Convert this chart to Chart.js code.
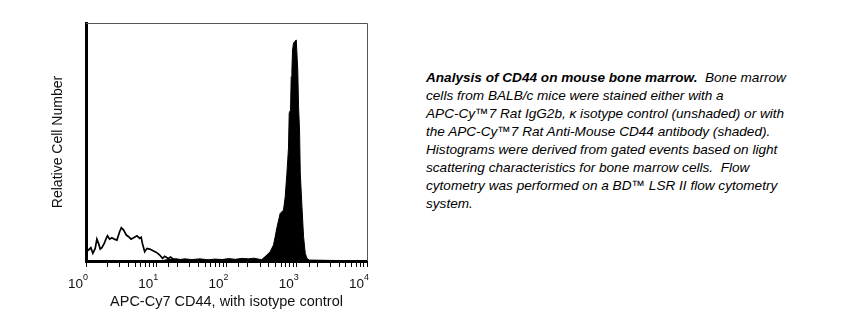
<!DOCTYPE html>
<html>
<head>
<meta charset="utf-8">
<script src="https://cdn.jsdelivr.net/npm/chart.js@4.4.1/dist/chart.umd.min.js"></script>
<style>
  html, body { margin: 0; padding: 0; background: #fff; }
  body { width: 844px; height: 321px; position: relative; overflow: hidden; }
  #wrap { position: absolute; left: 0; top: 0; width: 400px; height: 321px; }
  #caption {
    position: absolute; left: 426px; top: 69px; width: 415px;
    font-family: "Liberation Sans", Arial, sans-serif; font-style: italic;
    font-size: 13.6px; line-height: 18px; color: #000; white-space: nowrap;
  }
</style>
</head>
<body>
<div id="wrap"><canvas id="hist"></canvas></div>
<div id="caption">
<b>Analysis of CD44 on mouse bone marrow.</b>&nbsp; Bone marrow<br>
cells from BALB/c mice were stained either with a<br>
APC-Cy™7 Rat IgG2b, κ isotype control (unshaded) or with<br>
the APC-Cy™7 Rat Anti-Mouse CD44 antibody (shaded).<br>
Histograms were derived from gated events based on light<br>
scattering characteristics for bone marrow cells.&nbsp; Flow<br>
cytometry was performed on a BD™ LSR II flow cytometry<br>
system.
</div>
<script>
// isotype control (unshaded)
const ctrlX = [1.0, 1.005, 1.086, 1.172, 1.252, 1.352, 1.428, 1.509, 1.594, 1.683, 1.818, 1.941, 2.028, 2.166, 2.339, 2.526, 2.756, 3.01, 3.18, 3.434, 3.749, 4.047, 4.369, 4.772, 5.325, 5.81, 6.1, 6.35, 6.85, 7.39, 8.07, 9.01, 10.07, 11.2, 12.3, 13.2, 14.8, 16.0, 17.4, 19.4, 21.7, 30, 60, 10000];
const ctrlY = [0, 5.3, 4.6, 5.6, 3.2, 5.3, 9.2, 7.4, 5.0, 5.6, 7.4, 9.5, 10.6, 9.2, 9.8, 9.2, 8.8, 12.3, 14.0, 13.0, 10.9, 10.2, 9.2, 9.8, 10.6, 9.5, 10.0, 7.4, 3.9, 5.3, 5.0, 4.3, 3.6, 2.5, 1.1, 2.0, 1.1, 1.7, 0.8, 0.8, 0.5, 0.3, 0.2, 0];

// CD44 stained (shaded)
const cd44X = [1, 12, 13.2, 16.6, 20.4, 25.5, 32.2, 41.8, 54.6, 68.4, 86.2, 107, 133, 166, 207, 246, 281, 318, 375, 418, 466, 493, 521, 581, 648, 685, 724, 763, 781, 815, 834, 853, 871, 900, 952, 984, 1033, 1061, 1096, 1122, 1186, 1250, 1322, 1398, 1510, 10000];
const cd44Y = [0, 0, 0.4, 0.8, 0.5, 0.9, 0.6, 0.9, 0.5, 0.8, 0.6, 1.0, 0.7, 1.1, 0.9, 1.2, 0.8, 0.6, 2.5, 3.9, 6.7, 10.2, 13.9, 20.0, 21.4, 27.0, 36.8, 47.5, 62.2, 63.4, 77.4, 80.3, 88.7, 91.6, 92.4, 92.9, 80.3, 64.8, 55.0, 37.0, 22.8, 10.2, 3.2, 1.1, 0.4, 0];

const majorTicks = [1, 10, 100, 1000, 10000];
const xTitle = 'APC-Cy7 CD44, with isotype control';
const yTitle = 'Relative Cell Number';

const pts = (xs, ys) => xs.map((x, i) => ({ x: x, y: ys[i] }));

// grey frame on top/right + 10^n labels
const extras = {
  id: 'extras',
  afterDraw(chart) {
    const c = chart.ctx, a = chart.chartArea, sx = chart.scales.x;
    c.save();
    c.strokeStyle = '#555';
    c.lineWidth = 1;
    c.beginPath();
    c.moveTo(a.left, a.top + 0.5);
    c.lineTo(a.right + 0.5, a.top + 0.5);
    c.lineTo(a.right + 0.5, a.bottom);
    c.stroke();

    c.fillStyle = '#111';
    c.textAlign = 'right';
    c.textBaseline = 'alphabetic';
    majorTicks.forEach(v => {
      const px = sx.getPixelForValue(v) + 2;
      const exp = String(Math.round(Math.log10(v)));
      c.font = '9px "Liberation Sans", Arial, sans-serif';
      const ew = c.measureText(exp).width;
      c.fillText(exp, px, 280);
      c.font = '13.5px "Liberation Sans", Arial, sans-serif';
      c.fillText('10', px - ew, 288);
    });
    c.restore();
  }
};

new Chart(document.getElementById('hist'), {
  type: 'line',
  data: {
    datasets: [
      {
        data: pts(cd44X, cd44Y),
        borderColor: '#000',
        backgroundColor: '#000',
        borderWidth: 1,
        fill: 'origin',
        pointRadius: 0,
        tension: 0
      },
      {
        data: pts(ctrlX, ctrlY),
        borderColor: '#000',
        borderWidth: 1.7,
        fill: false,
        pointRadius: 0,
        tension: 0
      }
    ]
  },
  options: {
    responsive: true,
    maintainAspectRatio: false,
    animation: false,
    layout: { padding: { top: 23, right: 33, left: 0, bottom: 0 } },
    plugins: { legend: { display: false }, tooltip: { enabled: false } },
    scales: {
      x: {
        type: 'logarithmic',
        min: 1,
        max: 10000,
        afterFit(s) { s.height = 60; },
        border: { display: true, color: '#000', width: 3 },
        grid: { drawOnChartArea: false, drawTicks: true, tickLength: 6, tickColor: '#000', tickWidth: 1 },
        ticks: { display: false },
        title: {
          display: true, text: xTitle, color: '#111',
          font: { family: '"Liberation Sans", Arial, sans-serif', size: 14.5 },
          padding: { top: 0, bottom: 10 }
        }
      },
      y: {
        min: 0,
        max: 100,
        afterFit(s) { s.width = 86; },
        border: { display: true, color: '#000', width: 3 },
        grid: { display: false },
        ticks: { display: false },
        title: {
          display: true, text: yTitle, color: '#111',
          font: { family: '"Liberation Sans", Arial, sans-serif', size: 14 },
          padding: { top: 50, bottom: 0 }
        }
      }
    }
  },
  plugins: [extras]
});
</script>
</body>
</html>
